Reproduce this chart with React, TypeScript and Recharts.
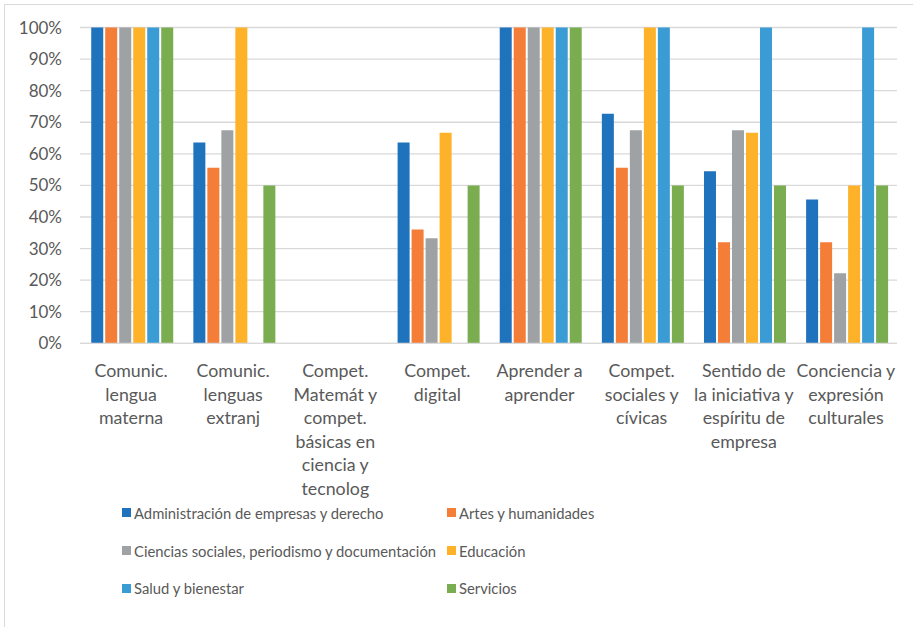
import React from 'react';
import { BarChart, Bar, XAxis, YAxis, CartesianGrid } from 'recharts';

// categorías (con saltos de línea como en la figura)
const categories = [
  'Comunic.\nlengua\nmaterna',
  'Comunic.\nlenguas\nextranj',
  'Compet.\nMatemát y\ncompet.\nbásicas en\nciencia y\ntecnolog',
  'Compet.\ndigital',
  'Aprender a\naprender',
  'Compet.\nsociales y\ncívicas',
  'Sentido de\nla iniciativa y\nespíritu de\nempresa',
  'Conciencia y\nexpresión\nculturales',
];

const administracion = [100, 63.6, 0, 63.6, 100, 72.7, 54.5, 45.5];
const artes = [100, 55.6, 0, 36, 100, 55.6, 32, 32];
const ciencias = [100, 67.5, 0, 33.3, 100, 67.5, 67.5, 22.2];
const educacion = [100, 100, 0, 66.7, 100, 100, 66.7, 50];
const salud = [100, 0, 0, 0, 100, 100, 100, 100];
const servicios = [100, 50, 0, 50, 100, 50, 50, 50];

const yTicks = [0, 10, 20, 30, 40, 50, 60, 70, 80, 90, 100];

const series = [
  { key: 'admin', name: 'Administración de empresas y derecho', color: '#1F73BD', values: administracion },
  { key: 'artes', name: 'Artes y humanidades', color: '#F47D38', values: artes },
  { key: 'ciencias', name: 'Ciencias sociales, periodismo y documentación', color: '#9FA2A5', values: ciencias },
  { key: 'edu', name: 'Educación', color: '#FDB22A', values: educacion },
  { key: 'salud', name: 'Salud y bienestar', color: '#3A9BD5', values: salud },
  { key: 'serv', name: 'Servicios', color: '#7AAC50', values: servicios },
];

const data = categories.map((c, i) => {
  const row: Record<string, any> = { name: c };
  series.forEach(s => { row[s.key] = s.values[i]; });
  return row;
});

const FONT = 'Lato, "Open Sans", sans-serif';
const TEXT = '#595959';

const XTick = (props: any) => {
  const { x, y, payload } = props;
  const lines = String(payload.value).split('\n');
  return (
    <text x={x} y={y} textAnchor="middle" fill={TEXT} fontSize={17.8} fontFamily={FONT}>
      {lines.map((l, i) => (
        <tspan key={i} x={x} dy={i === 0 ? 32 : 23.5}>{l}</tspan>
      ))}
    </text>
  );
};

export default function App() {
  return (
    <div style={{ position: 'absolute', left: 0, top: 0, width: 913, height: 627, overflow: 'hidden', background: '#fff', fontFamily: FONT }}>
      <div style={{ position: 'absolute', left: 4, top: 4, width: 940, height: 660, border: '1px solid #D9D9D9' }} />
      <BarChart
        width={913}
        height={627}
        data={data}
        margin={{ top: 27.5, right: 16, left: 0, bottom: 0 }}
        barCategoryGap="11%"
        barGap={2}
        style={{ position: 'absolute', left: 0, top: 0 }}
      >
        <CartesianGrid vertical={false} stroke="#D9D9D9" strokeWidth={1.3} />
        <XAxis
          dataKey="name"
          height={283.7}
          tick={<XTick />}
          tickLine={false}
          axisLine={{ stroke: '#D9D9D9', strokeWidth: 1.3 }}
          tickSize={0}
          interval={0}
        />
        <YAxis
          width={80}
          domain={[0, 100]}
          ticks={yTicks}
          tickFormatter={(v: number) => `${v}%`}
          axisLine={false}
          tickLine={false}
          tickSize={0}
          tickMargin={18}
          tick={{ fill: TEXT, fontSize: 17, fontFamily: FONT }}
        />
        {series.map(s => (
          <Bar key={s.key} dataKey={s.key} name={s.name} fill={s.color} isAnimationActive={false} />
        ))}
      </BarChart>
      {series.map((s, i) => {
        const col = i % 2;
        const row = Math.floor(i / 2);
        return (
          <div
            key={s.key}
            style={{
              position: 'absolute',
              left: col === 0 ? 122 : 447,
              top: 512.7 + row * 37.8 - 12,
              height: 24,
              display: 'flex',
              alignItems: 'center',
              fontSize: 14.8,
              color: TEXT,
              whiteSpace: 'nowrap',
            }}
          >
            <span style={{ display: 'inline-block', width: 9, height: 9, background: s.color, marginRight: 3 }} />
            <span>{s.name}</span>
          </div>
        );
      })}
    </div>
  );
}
